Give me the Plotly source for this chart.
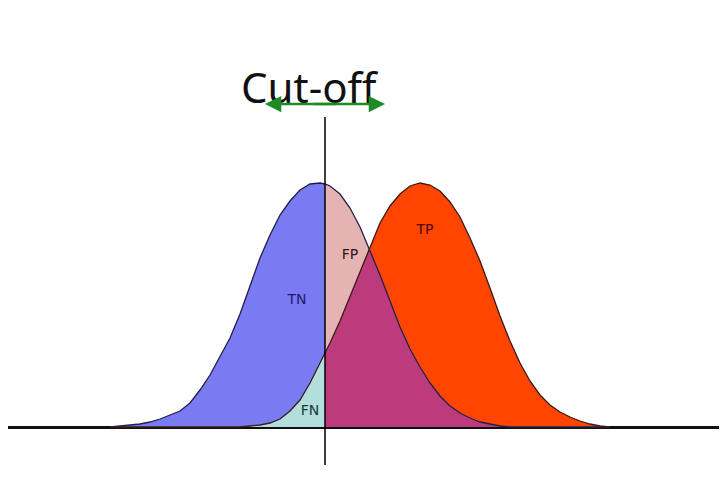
import plotly.graph_objects as go

# positions along the score axis and the two class curves
x_pos = [110, 120, 130, 140, 150, 160, 170, 180, 190, 200, 210, 220, 230, 240,
         250, 260, 270, 280, 290, 300, 310, 320, 325, 330, 340, 350, 360, 369,
         370, 380, 390, 400, 410, 420, 430, 440, 450, 460, 470, 480, 490, 500,
         510, 520, 530, 540, 550, 560, 570, 580, 590, 600, 610]
negatives = [0, 1, 2, 3, 5, 8, 12, 16, 24, 37, 52, 70, 89, 113,
             142, 169, 192, 212, 226, 237, 243, 244, 243, 241, 233, 219, 200, 179,
             176, 152, 126, 100, 78, 60, 44, 31, 21, 14, 9, 5, 3, 1,
             0, 0, 0, 0, 0, 0, 0, 0, 0, 0, 0]
positives = [0, 0, 0, 0, 0, 0, 0, 0, 0, 0, 0, 0, 0, 0,
             1, 2, 4, 8, 16, 27, 44, 64, 74, 84, 106, 131, 156, 178,
             180, 204, 221, 233, 241, 244, 242, 236, 225, 210, 189, 166, 139, 111,
             86, 64, 46, 32, 22, 15, 10, 6, 3, 1, 0]
cutoff = 325

labels = ["TN", "FP", "TP", "FN"]
label_x = [297, 350, 425, 310]
label_y = [127, 172, 197, 16]
label_colors = ["#1c1c6e", "#2a1616", "#4a0a0a", "#173838"]

# split at the cut-off
left = [i for i, x in enumerate(x_pos) if x <= cutoff]
right = [i for i, x in enumerate(x_pos) if x >= cutoff]
xl = [x_pos[i] for i in left]
xr = [x_pos[i] for i in right]
neg_l = [negatives[i] for i in left]
pos_l = [positives[i] for i in left]
neg_r = [negatives[i] for i in right]
pos_r = [positives[i] for i in right]
low_r = [min(a, b) for a, b in zip(neg_r, pos_r)]

no_line = dict(width=0)
fig = go.Figure()

# left of cut-off: FN under positives, TN between
fig.add_trace(go.Scatter(x=xl, y=pos_l, mode="lines", line=no_line,
                         fill="tozeroy", fillcolor="#b2dfdc"))
fig.add_trace(go.Scatter(x=xl, y=neg_l, mode="lines", line=no_line,
                         fill="tonexty", fillcolor="#7a7af2"))

# right of cut-off: overlap, FP and TP
fig.add_trace(go.Scatter(x=xr, y=low_r, mode="lines", line=no_line,
                         fill="tozeroy", fillcolor="#bd3b7d"))
fig.add_trace(go.Scatter(x=xr, y=neg_r, mode="lines", line=no_line,
                         fill="tonexty", fillcolor="#e6b3b3"))
fig.add_trace(go.Scatter(x=xr, y=low_r, mode="lines", line=no_line))
fig.add_trace(go.Scatter(x=xr, y=pos_r, mode="lines", line=no_line,
                         fill="tonexty", fillcolor="#ff4500"))

# outlines
fig.add_trace(go.Scatter(x=x_pos, y=negatives, mode="lines",
                         line=dict(color="#20204a", width=1.3)))
fig.add_trace(go.Scatter(x=x_pos, y=positives, mode="lines",
                         line=dict(color="#3a1a1a", width=1.3)))

fig.add_trace(go.Scatter(x=label_x, y=label_y, mode="text", text=labels,
                         textfont=dict(family="DejaVu Sans", size=14,
                                       color=label_colors)))

fig.add_shape(type="line", x0=cutoff, x1=cutoff, y0=-38, y1=310,
              line=dict(color="black", width=1.5))

# cut-off title and double arrow
fig.add_annotation(x=310, y=341, text="Cut-off", showarrow=False,
                   font=dict(family="Noto Sans", size=42, color="#111111"))
for tip, tail in [(cutoff - 60, cutoff + 12), (cutoff + 60, cutoff - 12)]:
    fig.add_annotation(x=tip, y=323, ax=tail, ay=323, axref="x", ayref="y",
                       text="", showarrow=True, arrowhead=2, arrowsize=1.3,
                       arrowwidth=2.5, arrowcolor="#1e8a24")

# the page body adds 8px around the figure, so the plot is 8px smaller
fig.update_layout(
    width=719, height=471,
    margin=dict(l=0, r=0, t=0, b=0),
    showlegend=False,
    plot_bgcolor="white", paper_bgcolor="white",
    xaxis=dict(range=[8, 727], showgrid=False, zeroline=False,
               showticklabels=False, ticks=""),
    yaxis=dict(range=[-52, 419], showgrid=False, zeroline=True,
               zerolinecolor="#111111", zerolinewidth=3,
               showticklabels=False, ticks=""),
)

fig.write_html("out.html")
